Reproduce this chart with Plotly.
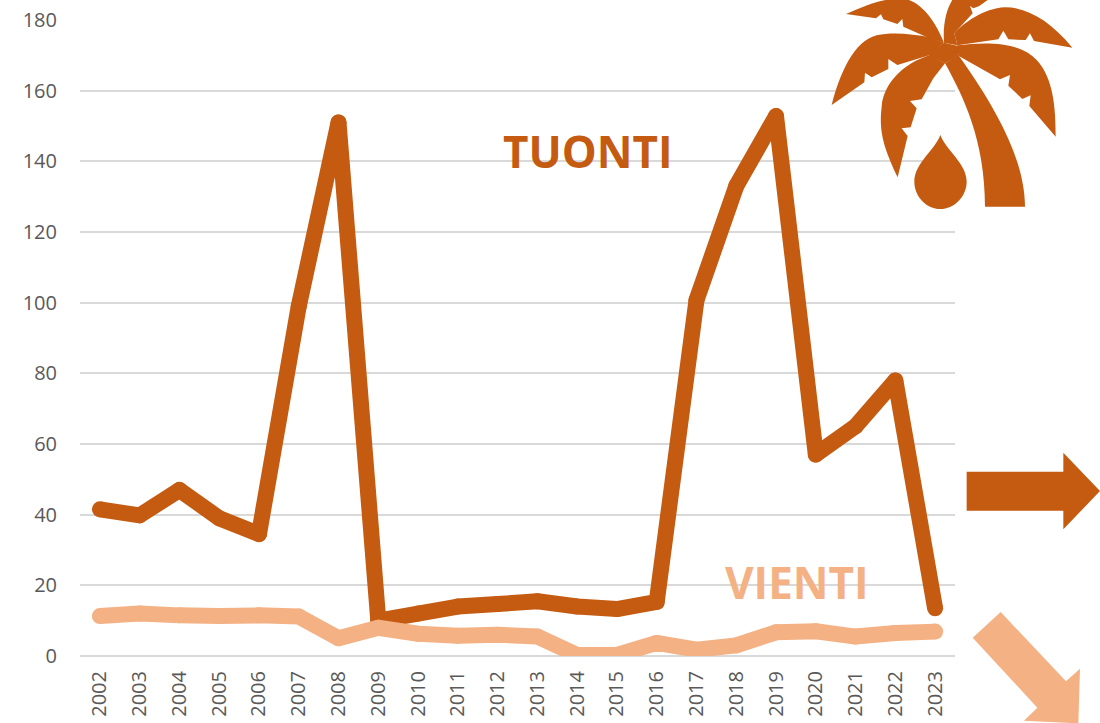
import re
import plotly.graph_objects as go

years = [str(y) for y in range(2002, 2024)]
tuonti = [41.5, 39.8, 47, 39, 34.5, 99, 151, 10, 12, 14, 14.7, 15.5, 14, 13.3, 15.3, 100.7, 133, 152.8, 57, 65, 78, 13.5]
vienti = [11.3, 12, 11.5, 11.3, 11.5, 11.2, 5, 8, 6.3, 5.7, 6, 5.5, 0.3, 0.3, 3.7, 1.8, 3, 6.7, 7, 5.5, 6.5, 6.9]
y_ticks = list(range(0, 181, 20))

DARK = "#C55A11"
LIGHT = "#F4B183"
GRID = "#D9D9D9"
TEXT = "#595959"
FONT = "Open Sans"
W, H = 1100, 723
L, R, T, B = 80, 955, 20, 656
LINE_W = 16


def px(x, y):
    return (x - L) / (R - L), (B - y) / (B - T)


def path(d, ox, oy, k=3.0):
    parts = re.findall(r"[MLCQZ]|-?[\d.]+", d)
    out, buf = [], []
    for p in parts:
        if p in "MLCQZ":
            out.append(p)
        else:
            buf.append(float(p))
            if len(buf) == 2:
                a, b = px(ox + buf[0] / k, oy + buf[1] / k)
                out.append(f"{a:.5f},{b:.5f}")
                buf = []
    s = ""
    for tok in out:
        if tok in "MLCQZ":
            s += tok
        else:
            s += (" " if s[-1] not in "MLCQZ" else "") + tok
    return s


palm_parts = [
    "M78 42 C140 15 190 -5 245 -5 C300 0 345 60 372 128 L318 110 L250 80 L247 57 L232 72 L190 58 L183 43 L168 55 Z",
    "M35 315 C60 220 100 125 170 106 C220 95 280 103 330 112 L372 128 L330 165 L232 195 L205 177 L205 207 L155 232 L135 218 L133 247 Z",
    "M233 532 C195 450 175 400 185 320 C190 250 250 190 330 165 L375 190 L340 235 L305 298 L270 303 L290 325 L272 382 L245 385 L263 408 Z",
    "M372 128 L415 138 L415 167 L375 190 L325 165 Z",
    "M375 190 C430 290 495 420 495 620 L615 620 C615 490 540 340 415 165 Z",
    "M412 136 C500 125 600 125 650 180 C700 235 707 320 707 410 L628 318 L632 286 L607 297 L565 257 L570 225 L540 238 L415 167 Z",
    "M757 143 C690 60 620 22 555 22 C490 25 430 70 403 100 L412 136 L535 118 L550 92 L565 118 L617 120 L630 100 L642 123 Z",
    "M372 128 C368 70 380 25 400 -5 L510 -5 L478 18 L460 25 L450 18 L458 40 L403 100 L412 136 Z",
    "M361 405 C345 450 283 490 283 545 C283 590 320 627 361 627 C402 627 440 590 440 545 C440 490 377 450 361 405 Z",
]
arrow_right = "M50 95 L340 95 L340 38 L450 153 L340 268 L340 212 L50 212 Z"
arrow_down = "M152 516 L348 724 L390 686 L385 850 L222 842 L262 803 L68 593 Z"

masks = [
    (849, 10, 1000, 30),
    (818, 80, 1000, 100),
    (829, 150, 1000, 172),
    (482, 150, 696, 172),
    (908, 222, 1000, 240),
    (704, 575, 892, 595),
]

shapes = []
for x0, y0, x1, y1 in masks:
    a0, b0 = px(x0, y0)
    a1, b1 = px(x1, y1)
    shapes.append(dict(type="rect", xref="paper", yref="paper", x0=a0, y0=b0, x1=a1, y1=b1,
                       fillcolor="white", line_width=0, layer="between"))
for d in palm_parts:
    shapes.append(dict(type="path", xref="paper", yref="paper", path=path(d, 820, 0),
                       fillcolor=DARK, line_width=0, layer="above"))
shapes.append(dict(type="path", xref="paper", yref="paper", path=path(arrow_right, 950, 440),
                   fillcolor=DARK, line_width=0, layer="above"))
shapes.append(dict(type="path", xref="paper", yref="paper", path=path(arrow_down, 950, 440),
                   fillcolor=LIGHT, line_width=0, layer="above"))

fig = go.Figure()
fig.add_trace(go.Scatter(x=years, y=tuonti, mode="lines+markers", name="TUONTI",
                         line=dict(color=DARK, width=LINE_W, simplify=False),
                         marker=dict(size=LINE_W, color=DARK, opacity=1, line_width=0),
                         cliponaxis=True))
fig.add_trace(go.Scatter(x=years, y=vienti, mode="lines+markers", name="VIENTI",
                         line=dict(color=LIGHT, width=LINE_W, simplify=False),
                         marker=dict(size=LINE_W, color=LIGHT, opacity=1, line_width=0),
                         cliponaxis=True))


def label(text, x, y, color):
    a, b = px(x, y)
    return dict(text=f"<b>{text}</b>", xref="paper", yref="paper", x=a, y=b, showarrow=False,
                xanchor="center", yanchor="middle", font=dict(family=FONT, size=44, color=color))


fig.update_layout(
    width=W, height=H, showlegend=False, paper_bgcolor="white", plot_bgcolor="white",
    margin=dict(l=L, r=W - R, t=T, b=H - B, autoexpand=False),
    shapes=shapes,
    annotations=[label("TUONTI", 588, 151, DARK), label("VIENTI", 797, 582, LIGHT)],
    xaxis=dict(type="category", range=[-0.5, 21.5], tickmode="array", tickvals=years, ticktext=years,
               tickangle=-90, showgrid=False, zeroline=False, showline=False, ticks="", ticklabelstandoff=10,
               tickfont=dict(family=FONT, size=20, color=TEXT)),
    yaxis=dict(range=[0, 180], tickmode="array", tickvals=y_ticks, ticktext=[str(v) for v in y_ticks],
               showgrid=True, gridcolor=GRID, gridwidth=2, zeroline=True, zerolinecolor=GRID, zerolinewidth=2,
               showline=False, ticks="", ticklabelstandoff=22,
               tickfont=dict(family=FONT, size=20, color=TEXT)),
)

POST = """
document.body.style.margin='0';document.body.style.overflow='hidden';
function roundJoins(){document.querySelectorAll('.scatterlayer .js-line').forEach(function(e){e.style.strokeLinejoin='round';});}
roundJoins();setTimeout(roundJoins,50);setTimeout(roundJoins,300);
"""
fig.write_html("out.html", config=dict(displayModeBar=False), post_script=POST)
